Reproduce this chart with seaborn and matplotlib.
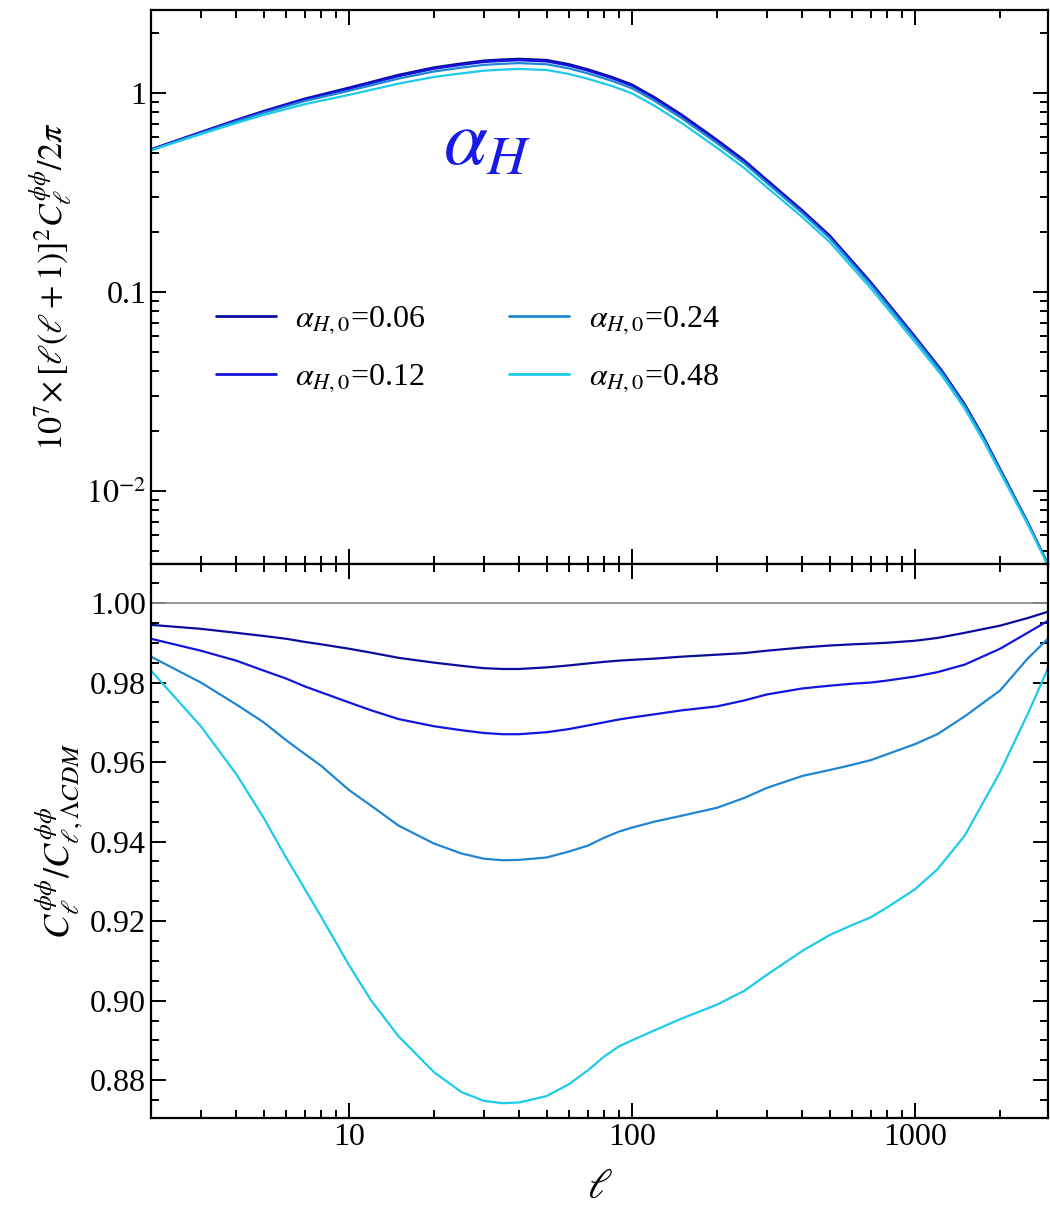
import numpy as np
import pandas as pd
import matplotlib
matplotlib.use("Agg")
import matplotlib.pyplot as plt
import matplotlib.ticker as mticker
import seaborn as sns

# ---------------- data ----------------
series_labels = [r"$\alpha_{H,0}$=0.06", r"$\alpha_{H,0}$=0.12",
                 r"$\alpha_{H,0}$=0.24", r"$\alpha_{H,0}$=0.48"]
colors = ["#0c0c9c", "#1414e0", "#1f86d4", "#1ccbea"]

# top panel: multipoles and 10^7 [l(l+1)]^2 C_l^pp / 2pi
ell_top = [2, 3, 4, 5, 7, 10, 15, 20, 25, 30, 35, 40, 50, 60, 70, 85, 100,
           120, 150, 200, 250, 300, 400, 500, 700, 1000, 1250, 1500, 1750,
           2000, 2500, 2950]
top_006 = [0.52, 0.635, 0.73, 0.81, 0.935, 1.06, 1.23, 1.34, 1.403, 1.45,
           1.469, 1.48, 1.46, 1.39, 1.31, 1.20, 1.10, 0.951, 0.776, 0.58,
           0.457, 0.365, 0.257, 0.192, 0.1115, 0.0598, 0.040, 0.0273, 0.0186,
           0.0129, 0.0070, 0.0043]
top_012 = [0.5182, 0.6315, 0.7249, 0.8029, 0.9244, 1.0455, 1.2108, 1.3182,
           1.380, 1.426, 1.4445, 1.4553, 1.4358, 1.3674, 1.2892, 1.1817,
           1.0838, 0.9375, 0.7654, 0.5724, 0.4515, 0.3609, 0.2543, 0.190,
           0.1104, 0.05926, 0.03966, 0.02708, 0.01847, 0.01282, 0.00697,
           0.00429]
top_024 = [0.5158, 0.6264, 0.7168, 0.7923, 0.9084, 1.0219, 1.1774, 1.2781,
           1.3357, 1.3794, 1.3971, 1.4078, 1.3891, 1.3239, 1.2491, 1.1469,
           1.0529, 0.9115, 0.7445, 0.5574, 0.4402, 0.3523, 0.2486, 0.1859,
           0.1082, 0.05823, 0.03904, 0.02672, 0.01825, 0.01269, 0.00693,
           0.00427]
top_048 = [0.5140, 0.6193, 0.7039, 0.7727, 0.8763, 0.9748, 1.1113, 1.1999,
           1.2502, 1.2896, 1.3059, 1.316, 1.30, 1.2413, 1.1739, 1.0806,
           0.9932, 0.8608, 0.7044, 0.5283, 0.4177, 0.3349, 0.2372, 0.1779,
           0.1038, 0.05603, 0.03770, 0.0259, 0.01778, 0.01242, 0.00683,
           0.00424]

# bottom panel: ratio to LCDM
ell_bot = [2, 3, 4, 5, 6, 7, 8, 10, 12, 15, 20, 25, 30, 35, 40, 50, 60, 70, 80,
           90, 100, 120, 150, 200, 250, 300, 400, 500, 600, 700, 800, 1000,
           1200, 1500, 2000, 2500, 2950]
ratio_006 = [0.9945, 0.9935, 0.9925, 0.9917, 0.991, 0.9902, 0.9896, 0.9885,
             0.9875, 0.9862, 0.985, 0.9842, 0.9836, 0.9834, 0.9834, 0.9838,
             0.9843, 0.9848, 0.9852, 0.9855, 0.9857, 0.986, 0.9865, 0.987,
             0.9874, 0.988, 0.9888, 0.9893, 0.9896, 0.9898, 0.990, 0.9905,
             0.9912, 0.9925, 0.9943, 0.9962, 0.9978]
ratio_012 = [0.991, 0.988, 0.9855, 0.983, 0.981, 0.979, 0.9775, 0.975, 0.973,
             0.9708, 0.969, 0.968, 0.9673, 0.967, 0.967, 0.9675, 0.9683,
             0.9692, 0.970, 0.9707, 0.9712, 0.972, 0.973, 0.974, 0.9755,
             0.977, 0.9785, 0.9792, 0.9797, 0.980, 0.9805, 0.9815, 0.9826,
             0.9845, 0.9885, 0.9925, 0.9955]
ratio_024 = [0.9865, 0.980, 0.9745, 0.970, 0.9655, 0.962, 0.959, 0.953, 0.949,
             0.944, 0.9395, 0.937, 0.9357, 0.9353, 0.9354, 0.936, 0.9375,
             0.939, 0.941, 0.9425, 0.9435, 0.945, 0.9465, 0.9485, 0.951,
             0.9535, 0.9565, 0.958, 0.9593, 0.9605, 0.962, 0.9645, 0.967,
             0.9715, 0.978, 0.986, 0.991]
ratio_048 = [0.983, 0.969, 0.957, 0.946, 0.936, 0.928, 0.921, 0.909, 0.900,
             0.891, 0.882, 0.877, 0.8748, 0.8742, 0.8744, 0.876, 0.879,
             0.8825, 0.886, 0.8885, 0.890, 0.8925, 0.8955, 0.899, 0.9025,
             0.9065, 0.9125, 0.9165, 0.919, 0.921, 0.9235, 0.928, 0.933,
             0.9415, 0.9575, 0.972, 0.9835]

top_ticks = [0.01, 0.1, 1]
top_tick_labels = [r"$10^{-2}$", "0.1", "1"]
bot_ticks = [0.88, 0.90, 0.92, 0.94, 0.96, 0.98, 1.00]
x_ticks = [10, 100, 1000]
x_tick_labels = ["10", "100", "1000"]

# ---------------- style ----------------
sns.set_style("ticks")
plt.rcParams["font.family"] = ["Liberation Serif", "DejaVu Serif"]
plt.rcParams["mathtext.fontset"] = "stix"
plt.rcParams["axes.linewidth"] = 1.6
for k in ["axes.edgecolor", "xtick.color", "ytick.color", "text.color",
          "axes.labelcolor"]:
    plt.rcParams[k] = "black"

fig = plt.figure(figsize=(10.5, 12.12), dpi=100)
gs = fig.add_gridspec(2, 1, left=0.1438, right=0.998, top=0.9917,
                      bottom=0.0776, hspace=0.0)
ax1 = fig.add_subplot(gs[0])
ax2 = fig.add_subplot(gs[1], sharex=ax1)

tops = [top_006, top_012, top_024, top_048]
ratios = [ratio_006, ratio_012, ratio_024, ratio_048]

for lab, col, yv in zip(series_labels, colors, tops):
    df = pd.DataFrame({"ell": ell_top, "val": yv})
    sns.lineplot(data=df, x="ell", y="val", ax=ax1, color=col, lw=1.6,
                 label=lab, estimator=None)

ax2.axhline(1.0, color="#8e8e8e", lw=1.3, zorder=1)
for lab, col, yv in zip(series_labels, colors, ratios):
    df = pd.DataFrame({"ell": ell_bot, "val": yv})
    sns.lineplot(data=df, x="ell", y="val", ax=ax2, color=col, lw=1.6,
                 legend=False, estimator=None)

for ax in (ax1, ax2):
    ax.set_xscale("log")
    ax.set_xlim(2, 2950)
    ax.tick_params(which="both", direction="in", top=True, right=True,
                   width=1.4, labelsize=23)
    ax.tick_params(which="major", length=11)
    ax.tick_params(which="minor", length=5.5)

ax1.set_yscale("log")
ax1.set_ylim(0.0043, 2.6)
ax1.set_yticks(top_ticks)
ax1.set_yticklabels(top_tick_labels)
ax1.yaxis.set_minor_locator(mticker.LogLocator(base=10, subs=np.arange(2, 10)))
ax1.yaxis.set_minor_formatter(mticker.NullFormatter())
ax1.tick_params(labelbottom=False)
ax1.set_xlabel("")
ax1.set_ylabel(r"$10^7\!\times[\ell(\ell+1)]^2C_\ell^{\phi\phi}/2\pi$",
               fontsize=24.5, labelpad=8)

ax2.set_ylim(0.8705, 1.0098)
ax2.set_yticks(bot_ticks)
ax2.yaxis.set_major_formatter(mticker.FormatStrFormatter("%.2f"))
ax2.yaxis.set_minor_locator(mticker.MultipleLocator(0.005))
ax2.set_xticks(x_ticks)
ax2.set_xticklabels(x_tick_labels)
ax2.xaxis.set_minor_formatter(mticker.NullFormatter())
ax2.set_xlabel(r"$\ell$", fontsize=30, labelpad=12)
ax2.set_ylabel(r"$C_\ell^{\phi\phi}/C_{\ell,\Lambda CDM}^{\phi\phi}$",
               fontsize=26, labelpad=4)

ax1.text(0.375, 0.755, r"$\alpha_H$", transform=ax1.transAxes, color="#1a1ae8",
         fontsize=57, ha="center", va="center")

leg = ax1.legend(loc="upper left", bbox_to_anchor=(0.072, 0.468), ncol=2,
                 frameon=False, fontsize=23, handlelength=1.9,
                 handletextpad=0.6, columnspacing=2.6, labelspacing=0.82,
                 borderpad=0, borderaxespad=0)
for ln in leg.get_lines():
    ln.set_linewidth(2.0)

fig.savefig("out.png", dpi=100)
